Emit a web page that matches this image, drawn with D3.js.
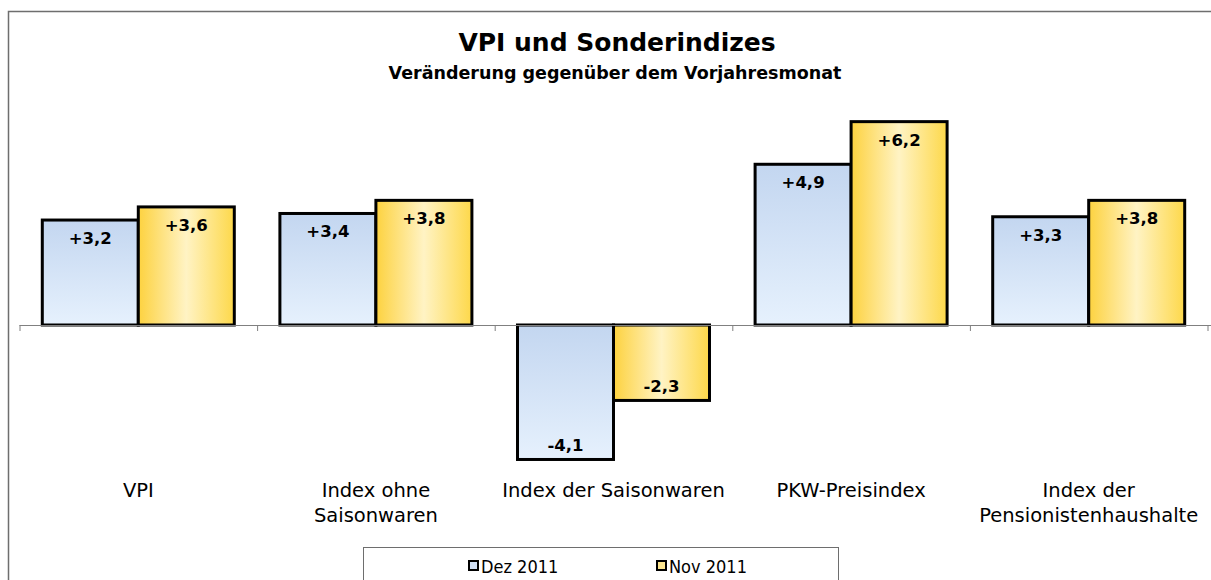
<!DOCTYPE html>
<html lang="de">
  <head>
    <meta charset="utf-8">
    <script src="https://d3js.org/d3.v7.min.js"></script>
    <style>
      body {margin: 0; background: #fff;}
      text {font-family: "DejaVu Sans", sans-serif; fill: #000;}
      text.leg {font-family: "DejaVu Sans Condensed", "DejaVu Sans", sans-serif;}
    </style>
  </head>
  <body>
    <script type="text/javascript">
      // data
      const categories = ["VPI", "Index ohne Saisonwaren", "Index der Saisonwaren", "PKW-Preisindex", "Index der Pensionistenhaushalte"];
      const categoryLines = [["VPI"], ["Index ohne", "Saisonwaren"], ["Index der Saisonwaren"], ["PKW-Preisindex"], ["Index der", "Pensionistenhaushalte"]];
      const seriesNames = ["Dez 2011", "Nov 2011"];
      const dez2011 = [3.2, 3.4, -4.1, 4.9, 3.3];
      const nov2011 = [3.6, 3.8, -2.3, 6.2, 3.8];

      const w = 1211;
      const h = 580;

      var svg = d3.select("body")
            .append("svg")
            .attr("width", w)
            .attr("height", h);

      // gradients for the bars
      var defs = svg.append("defs");
      var blue = defs.append("linearGradient").attr("id", "gBlue")
            .attr("x1", 0).attr("y1", 0).attr("x2", 0).attr("y2", 1);
      blue.append("stop").attr("offset", "0%").attr("stop-color", "#c3d6f0");
      blue.append("stop").attr("offset", "100%").attr("stop-color", "#e6f1fd");
      var gold = defs.append("linearGradient").attr("id", "gGold")
            .attr("x1", 0).attr("y1", 0).attr("x2", 1).attr("y2", 0);
      gold.append("stop").attr("offset", "0%").attr("stop-color", "#fdd23f");
      gold.append("stop").attr("offset", "50%").attr("stop-color", "#fff3c4");
      gold.append("stop").attr("offset", "100%").attr("stop-color", "#fdd84a");
      const fills = ["url(#gBlue)", "url(#gGold)"];

      // outer frame
      svg.append("rect")
          .attr("x", 8.5).attr("y", 11.5)
          .attr("width", w + 10).attr("height", h + 10)
          .attr("fill", "none")
          .attr("stroke", "#6e6e6e")
          .attr("stroke-width", 1.5);

      // titles
      svg.append("text")
          .attr("x", 617).attr("y", 51)
          .attr("text-anchor", "middle")
          .style("font-size", "25px").style("font-weight", "bold")
          .text("VPI und Sonderindizes");
      svg.append("text")
          .attr("x", 615).attr("y", 79)
          .attr("text-anchor", "middle")
          .style("font-size", "17.5px").style("font-weight", "bold")
          .text("Veränderung gegenüber dem Vorjahresmonat");

      // scales
      var x0 = d3.scaleBand()
            .domain(categories)
            .range([19.5, 1207.5])
            .paddingInner(0);
      var x1 = d3.scaleBand()
            .domain(seriesNames)
            .range([0, x0.bandwidth()])
            .paddingOuter(0.2375)
            .paddingInner(0);
      var y = d3.scaleLinear()
            .domain([-6, 8])
            .range([325 + 6 * 32.8, 325 - 8 * 32.8]);

      const rows = [dez2011, nov2011];
      const fmt = function(v) {
        return (v > 0 ? "+" : "-") + Math.abs(v).toFixed(1).replace(".", ",");
      };

      // bars
      seriesNames.forEach(function(s, si) {
        var g = svg.append("g");
        g.selectAll("rect")
            .data(rows[si])
            .enter()
            .append("rect")
            .attr("x", function(d, i) { return x0(categories[i]) + x1(s); })
            .attr("y", function(d) { return y(Math.max(0, d)); })
            .attr("width", x1.bandwidth())
            .attr("height", function(d) { return Math.abs(y(d) - y(0)); })
            .attr("fill", fills[si])
            .attr("stroke", "#000")
            .attr("stroke-width", 3);
        g.selectAll("text")
            .data(rows[si])
            .enter()
            .append("text")
            .attr("x", function(d, i) { return x0(categories[i]) + x1(s) + x1.bandwidth() / 2; })
            .attr("y", function(d) { return d > 0 ? y(d) + 24 : y(d) - 8; })
            .attr("text-anchor", "middle")
            .style("font-size", "16.5px").style("font-weight", "bold")
            .text(fmt);
      });

      // zero axis with ticks at category borders
      var xAxis = d3.axisBottom(d3.scaleLinear().domain([0, categories.length]).range([19.5, 1207.5]))
            .ticks(categories.length)
            .tickSize(6)
            .tickFormat("");
      var ax = svg.append("g")
          .attr("transform", "translate(0," + y(0) + ")")
          .call(xAxis);
      ax.select(".domain").attr("stroke", "#808080").attr("d", "M19.5,0.5H1211");
      ax.selectAll(".tick line").attr("stroke", "#808080");

      // category labels
      var labels = svg.selectAll(".cat")
          .data(categoryLines)
          .enter()
          .append("text")
          .attr("class", "cat")
          .attr("text-anchor", "middle")
          .style("font-size", "19.5px")
          .attr("transform", function(d, i) {
            return "translate(" + (x0(categories[i]) + x0.bandwidth() / 2) + ",497)";
          });
      labels.selectAll("tspan")
          .data(function(d) { return d; })
          .enter()
          .append("tspan")
          .attr("x", 0)
          .attr("y", function(d, i) { return i * 24.5; })
          .text(function(d) { return d; });

      // legend
      svg.append("rect")
          .attr("x", 363.5).attr("y", 547.5)
          .attr("width", 475).attr("height", 40)
          .attr("fill", "#fff")
          .attr("stroke", "#6e6e6e");
      var legX = [468, 656];
      seriesNames.forEach(function(s, si) {
        svg.append("rect")
            .attr("x", legX[si] + 1).attr("y", 561)
            .attr("width", 9).attr("height", 9)
            .attr("fill", si == 0 ? "#d0e0f5" : "#fde690")
            .attr("stroke", "#000")
            .attr("stroke-width", 2);
        svg.append("text")
            .attr("class", "leg")
            .attr("x", legX[si] + 13).attr("y", 572.5)
            .style("font-size", "18px")
            .text(s);
      });
    </script>
  </body>
</html>
